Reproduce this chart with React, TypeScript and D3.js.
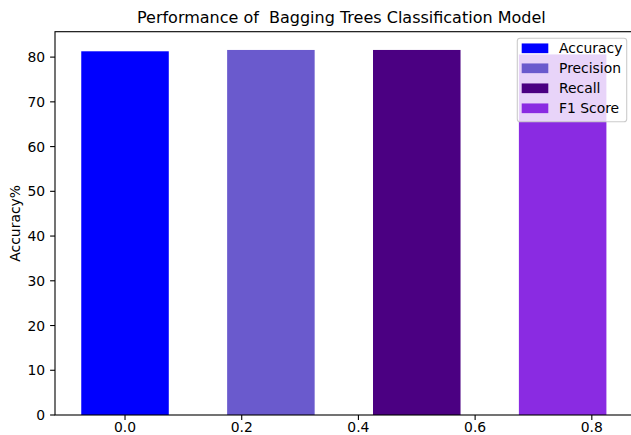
import React from "react";
import * as d3 from "d3";

const categories = ["Accuracy", "Precision", "Recall", "F1 Score"];
const positions = [0, 0.25, 0.5, 0.75];
const values = [81.3, 81.6, 81.6, 80.6];
const colors = ["#0000ff", "#6a5acd", "#4b0082", "#8a2be2"];
const xTicks = [0.0, 0.2, 0.4, 0.6, 0.8];
const yTicks = [0, 10, 20, 30, 40, 50, 60, 70, 80];
const titleText = "Performance of  Bagging Trees Classification Model";
const yLabel = "Accuracy%";

const W = 631;
const H = 435;
const barWidth = 0.15;
const FONT = "'DejaVu Sans', sans-serif";
const fs = 13.9;

export default function App() {
  const left = 55;
  const top = 31.7;
  const bottom = 415;
  const xMin = d3.min(positions)! - barWidth / 2;
  const xMax = d3.max(positions)! + barWidth / 2;
  const xPad = (xMax - xMin) * 0.05;
  const pxPerUnit = 583.5;
  const right = left + (xMax - xMin + 2 * xPad) * pxPerUnit;
  const x = d3.scaleLinear().domain([xMin - xPad, xMax + xPad]).range([left, right]);
  const yMax = d3.max(values)! * 1.05;
  const y = d3.scaleLinear().domain([0, yMax]).range([bottom, top]);
  const tick = 4.9;
  const cx = (left + right) / 2 - 2.5;

  const legX = 517.3;
  const legY = 38.3;
  const legW = 109.4;
  const legH = 83.4;

  return (
    <div style={{ position: "absolute", left: 0, top: 0 }}>
      <svg width={W} height={H} style={{ display: "block" }}>
        <rect x={0} y={0} width={W} height={H} fill="#fff" />
        {values.map((v, i) => (
          <rect
            key={categories[i]}
            x={x(positions[i] - barWidth / 2)}
            y={y(v)}
            width={x(positions[i] + barWidth / 2) - x(positions[i] - barWidth / 2)}
            height={y(0) - y(v)}
            fill={colors[i]}
          />
        ))}
        <rect x={left} y={top} width={right - left} height={bottom - top} fill="none" stroke="#000" strokeWidth={1.1} />
        {xTicks.map((t) => (
          <g key={t}>
            <line x1={x(t)} x2={x(t)} y1={bottom} y2={bottom + tick} stroke="#000" strokeWidth={1.1} />
            <text x={x(t)} y={bottom + tick + 4.9 + 7.6} textAnchor="middle" fontFamily={FONT} fontSize={fs} fill="#000">
              {d3.format(".1f")(t)}
            </text>
          </g>
        ))}
        {yTicks.map((t) => (
          <g key={t}>
            <line x1={left - tick} x2={left} y1={y(t)} y2={y(t)} stroke="#000" strokeWidth={1.1} />
            <text x={left - tick - 4.9} y={y(t)} dy="0.36em" textAnchor="end" fontFamily={FONT} fontSize={fs} fill="#000">
              {t}
            </text>
          </g>
        ))}
        <text
          transform={`translate(${19.5},${(top + bottom) / 2}) rotate(-90)`}
          textAnchor="middle"
          fontFamily={FONT}
          fontSize={fs}
          fill="#000"
        >
          {yLabel}
        </text>
        <text
          x={cx}
          y={top - 8.8}
          textAnchor="middle"
          fontFamily={FONT}
          fontSize={16.0}
          fill="#000"
          style={{ whiteSpace: "pre" }}
        >
          {titleText}
        </text>
        <rect x={legX} y={legY} width={legW} height={legH} rx={2.8} fill="#fff" fillOpacity={0.8} stroke="#cccccc" strokeWidth={1.1} />
        {categories.map((c, i) => (
          <g key={c}>
            <rect x={521.7} y={legY + 10 + i * 20 - 4.85} width={26.6} height={9.7} fill={colors[i]} />
            <text x={559} y={legY + 10 + i * 20} dy="0.36em" fontFamily={FONT} fontSize={fs} fill="#000">
              {c}
            </text>
          </g>
        ))}
      </svg>
    </div>
  );
}
